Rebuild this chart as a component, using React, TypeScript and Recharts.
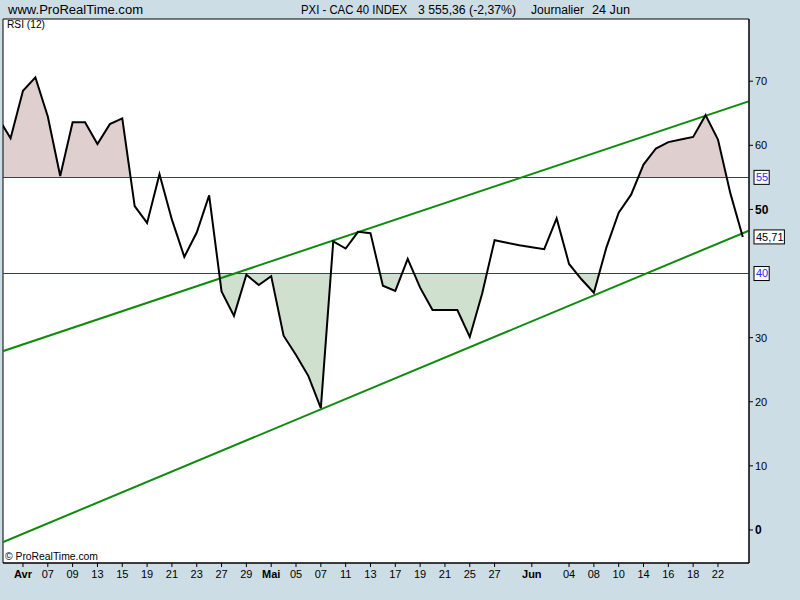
import React from "react";
import {
  Area,
  CartesianGrid,
  ComposedChart,
  Line,
  ReferenceArea,
  XAxis,
  YAxis,
} from "recharts";

// trading days (2010), one RSI value each
const dates = [
  "30 Mar", "31 Mar", "01 Apr", "06 Apr", "07 Apr", "08 Apr", "09 Apr", "12 Apr", "13 Apr", "14 Apr",
  "15 Apr", "16 Apr", "19 Apr", "20 Apr", "21 Apr", "22 Apr", "23 Apr", "26 Apr", "27 Apr", "28 Apr",
  "29 Apr", "30 Apr", "03 May", "04 May", "05 May", "06 May", "07 May", "10 May", "11 May", "12 May",
  "13 May", "14 May", "17 May", "18 May", "19 May", "20 May", "21 May", "24 May", "25 May", "26 May",
  "27 May", "28 May", "31 May", "01 Jun", "02 Jun", "03 Jun", "04 Jun", "07 Jun", "08 Jun", "09 Jun",
  "10 Jun", "11 Jun", "14 Jun", "15 Jun", "16 Jun", "17 Jun", "18 Jun", "21 Jun", "22 Jun", "23 Jun",
  "24 Jun",
];

const rsi = [
  64.3, 61.1, 68.5, 70.6, 64.5, 55.2, 63.6, 63.6, 60.2, 63.3,
  64.2, 50.5, 47.9, 55.5, 48.4, 42.6, 46.4, 52.2, 37.2, 33.4,
  39.8, 38.2, 39.6, 30.3, 27.3, 24.0, 19.0, 45.0, 43.9, 46.5,
  46.3, 38.1, 37.3, 42.3, 37.8, 34.3, 34.3, 34.3, 30.1, 36.9,
  45.2, 44.8, 44.4, 44.1, 43.8, 48.6, 41.5, 39.1, 37.0, 44.0,
  49.5, 52.3, 57.0, 59.5, 60.5, 60.9, 61.3, 64.7, 60.9, 52.5,
  45.71,
];

const tickDates = [
  "01 Apr", "07 Apr", "09 Apr", "13 Apr", "15 Apr", "19 Apr", "21 Apr", "23 Apr", "27 Apr", "29 Apr",
  "03 May", "05 May", "07 May", "11 May", "13 May", "17 May", "19 May", "21 May", "25 May", "27 May",
  "01 Jun", "04 Jun", "08 Jun", "10 Jun", "14 Jun", "16 Jun", "18 Jun", "22 Jun",
];
const tickLabels = [
  "Avr", "07", "09", "13", "15", "19", "21", "23", "27", "29",
  "Mai", "05", "07", "11", "13", "17", "19", "21", "25", "27",
  "Jun", "04", "08", "10", "14", "16", "18", "22",
];

const yTicks = [0, 10, 20, 30, 40, 50, 55, 60, 70];
const overbought = 55;
const oversold = 40;

// trend channel, endpoints in (day index, rsi)
const upperChannel = [
  { i: 0, v: 27.65 },
  { i: 61, v: 67.2 },
];
const lowerChannel = [
  { i: 0, v: -2.2 },
  { i: 61, v: 47.1 },
];

const data = rsi.map((v, i) => ({ i, date: dates[i], rsi: v }));
const tickIdx = tickDates.map((d) => dates.indexOf(d));
const labelAt = new Map(tickIdx.map((idx, k) => [idx, tickLabels[k]]));
const lastValue = rsi[rsi.length - 1];
const yTicksAll = [...yTicks, lastValue].sort((a, b) => a - b);

const xDomain: [number, number] = [0.39, 60.5];
const yDomain: [number, number] = [-5.15, 79.7];

const levelLine = (v: number) => [
  { i: 0, v },
  { i: dates.length, v },
];

const hi = Math.max(...rsi);
const lo = Math.min(...rsi);
const offHigh = (hi - overbought) / (hi - lo);
const offLow = (hi - oversold) / (hi - lo);

const FONT = "'Liberation Sans', Arial, sans-serif";
const BLUE = "#2828ff";
const GREEN = "#0f8a0f";

const XTick = (props: any) => {
  const { x, y, payload } = props;
  const label = labelAt.get(payload.value) ?? "";
  const isMonth = isNaN(Number(label));
  return (
    <text
      x={x}
      y={y}
      dy="0.71em"
      textAnchor="middle"
      fontSize={11}
      fontWeight={isMonth ? 700 : 400}
      fontFamily={FONT}
      fill="#000"
    >
      {label}
    </text>
  );
};

const YTick = (props: any) => {
  const { x, y, payload } = props;
  const v = payload.value;
  if (v === overbought || v === oversold || v === lastValue) {
    const text = v === lastValue ? v.toFixed(2).replace(".", ",") : String(v);
    const color = v === lastValue ? "#000" : BLUE;
    const w = 3 + text.split("").reduce((s, ch) => s + (ch === "," ? 3 : 6.1), 0);
    return (
      <g>
        <rect x={x - 1} y={y - 7} width={w} height={14} fill="#fff" stroke="#000" />
        <text x={x + 1} y={y} dy="0.36em" fontSize={11} fontFamily={FONT} fill={color}>
          {text}
        </text>
      </g>
    );
  }
  const bold = v === 0 || v === 50;
  return (
    <g>
      <line x1={x - 6} x2={x - 2} y1={y} y2={y} stroke="#000" />
      <text
        x={x}
        y={y}
        dy="0.36em"
        fontSize={bold ? 12 : 11}
        fontWeight={bold ? 700 : 400}
        fontFamily={FONT}
        fill="#000"
      >
        {v}
      </text>
    </g>
  );
};

export default function App() {
  return (
    <div style={{ position: "absolute", left: 0, top: 0, width: 800, height: 600, background: "#cddde6" }}>
      <ComposedChart width={800} height={600} data={data} margin={{ top: 19, right: 0, bottom: 0, left: 3 }}>
        <defs>
          <linearGradient id="obFill" x1="0" y1="0" x2="0" y2="1">
            <stop offset={offHigh} stopColor="#dfcfcf" stopOpacity={1} />
            <stop offset={offHigh} stopColor="#dfcfcf" stopOpacity={0} />
          </linearGradient>
          <linearGradient id="osFill" x1="0" y1="0" x2="0" y2="1">
            <stop offset={offLow} stopColor="#cfe0cf" stopOpacity={0} />
            <stop offset={offLow} stopColor="#cfe0cf" stopOpacity={1} />
          </linearGradient>
        </defs>
        <CartesianGrid fill="#ffffff" horizontal={false} vertical={false} />
        <XAxis
          type="number"
          dataKey="i"
          domain={xDomain}
          allowDataOverflow
          ticks={tickIdx}
          interval={0}
          tick={<XTick />}
          tickSize={4}
          tickMargin={3}
          height={37}
          stroke="#000"
        />
        <YAxis
          orientation="right"
          domain={yDomain}
          allowDataOverflow
          ticks={yTicksAll}
          interval={0}
          tick={<YTick />}
          tickLine={false}
          tickSize={4}
          tickMargin={2}
          width={51}
          stroke="#000"
        />
        <Area
          type="linear"
          dataKey="rsi"
          baseValue={overbought}
          fill="url(#obFill)"
          fillOpacity={1}
          stroke="transparent"
          strokeWidth={0}
          activeDot={false}
          isAnimationActive={false}
        />
        <Area
          type="linear"
          dataKey="rsi"
          baseValue={oversold}
          fill="url(#osFill)"
          fillOpacity={1}
          stroke="transparent"
          strokeWidth={0}
          activeDot={false}
          isAnimationActive={false}
        />
        <Line data={levelLine(overbought)} dataKey="v" type="linear" stroke={BLUE} strokeWidth={1.2} shapeRendering="crispEdges" dot={false} isAnimationActive={false} />
        <Line data={levelLine(oversold)} dataKey="v" type="linear" stroke={BLUE} strokeWidth={1.2} shapeRendering="crispEdges" dot={false} isAnimationActive={false} />
        <Line data={upperChannel} dataKey="v" type="linear" stroke={GREEN} strokeWidth={2} dot={false} isAnimationActive={false} />
        <Line data={lowerChannel} dataKey="v" type="linear" stroke={GREEN} strokeWidth={2} dot={false} isAnimationActive={false} />
        <Line dataKey="rsi" type="linear" stroke="#000" strokeWidth={2} dot={false} isAnimationActive={false} />
        <ReferenceArea x1={xDomain[0]} x2={xDomain[1]} y1={yDomain[0]} y2={yDomain[1]} fill="none" stroke="#000" />
      </ComposedChart>
      <svg
        width={800}
        height={600}
        style={{ position: "absolute", left: 0, top: 0, pointerEvents: "none" }}
        fontFamily={FONT}
      >
        <text x={8} y={14} fontSize={12} textLength={135} lengthAdjust="spacingAndGlyphs">
          www.ProRealTime.com
        </text>
        <text x={301} y={14} fontSize={12} textLength={106} lengthAdjust="spacingAndGlyphs">
          PXI - CAC 40 INDEX
        </text>
        <text x={418} y={14} fontSize={12} textLength={98} lengthAdjust="spacingAndGlyphs">
          3 555,36 (-2,37%)
        </text>
        <text x={531} y={14} fontSize={12} textLength={53} lengthAdjust="spacingAndGlyphs">
          Journalier
        </text>
        <text x={592} y={14} fontSize={12} textLength={38} lengthAdjust="spacingAndGlyphs">
          24 Jun
        </text>
        <text x={7} y={28} fontSize={10} textLength={38} lengthAdjust="spacingAndGlyphs">
          RSI (12)
        </text>
        <text x={5} y={560} fontSize={11} textLength={93} lengthAdjust="spacingAndGlyphs">
          © ProRealTime.com
        </text>
      </svg>
    </div>
  );
}
